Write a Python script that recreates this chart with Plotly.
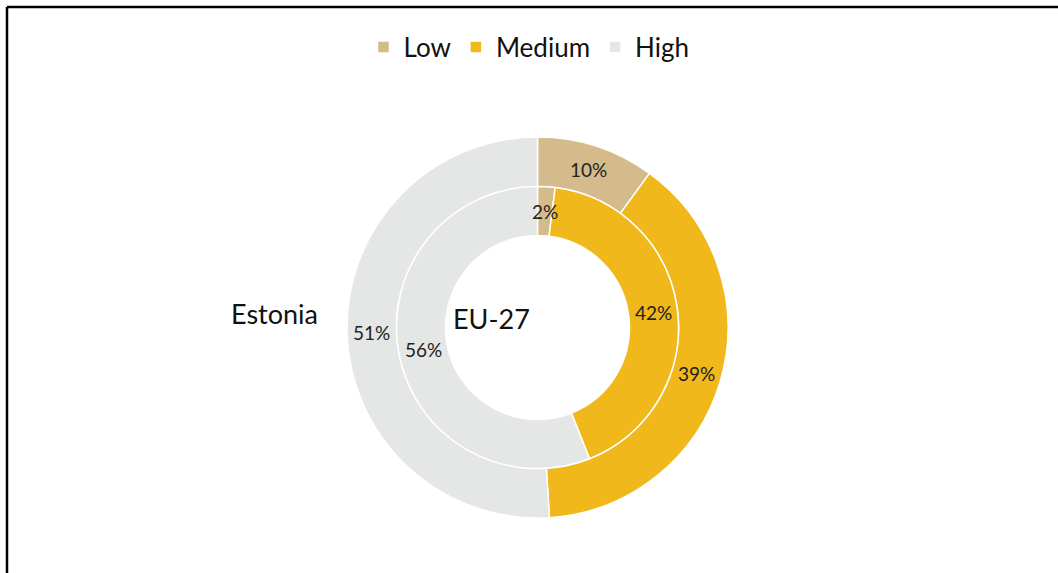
import math
import plotly.graph_objects as go

# Share of each level, outer ring = Estonia, inner ring = EU-27
levels = ["Low", "Medium", "High"]
estonia = [10, 39, 51]
eu27 = [2, 42, 56]
colors = ["#D5BB8B", "#F0B81B", "#E4E7E5"]

W, H = 1058, 573
cx, cy = 537.5, 327.5          # ring centre in pixels from top-left
r_outer, r_inner, r_hole = 190.5, 141.0, 92.0
FONT = "Lato, 'Open Sans', sans-serif"


def domain(r):
    return dict(
        x=[(cx - r) / W, (cx + r) / W],
        y=[(H - cy - r) / H, (H - cy + r) / H],
    )


def slice_labels(values, r_mid):
    """Percent labels at the middle of each slice (clockwise from 12 o'clock)."""
    total = sum(values)
    out, cum = [], 0.0
    for v in values:
        ang = 2 * math.pi * (cum + v / 2) / total
        cum += v
        px = cx + r_mid * math.sin(ang)
        py = cy - r_mid * math.cos(ang)
        out.append(dict(
            text=f"{v}%", x=px / W, y=1 - py / H, xref="paper", yref="paper",
            xanchor="center", yanchor="middle", showarrow=False,
            font=dict(family=FONT, size=19, color="#222222"),
        ))
    return out


common = dict(
    labels=levels,
    sort=False,
    direction="clockwise",
    rotation=0,
    marker=dict(colors=colors, line=dict(color="white", width=1.5)),
    textinfo="none",
    hoverinfo="label+value",
)

fig = go.Figure()
fig.add_trace(go.Pie(values=estonia, name="Estonia", domain=domain(r_outer),
                     hole=r_inner / r_outer, **common))
fig.add_trace(go.Pie(values=eu27, name="EU-27", domain=domain(r_inner),
                     hole=r_hole / r_inner, showlegend=False, **common))

annotations = [
    dict(text="Estonia", x=274 / W, y=1 - 313 / H, xref="paper", yref="paper",
         xanchor="center", yanchor="middle",
         showarrow=False, font=dict(size=27, color="#111111")),
    dict(text="EU-27", x=491 / W, y=1 - 318 / H, xref="paper", yref="paper",
         xanchor="center", yanchor="middle",
         showarrow=False, font=dict(size=27, color="#111111")),
]
annotations += slice_labels(estonia, (r_inner + r_outer) / 2)
annotations += slice_labels(eu27, (r_hole + r_inner) / 2)

fig.update_layout(
    width=W, height=H,
    margin=dict(l=0, r=0, t=0, b=0),
    paper_bgcolor="white",
    plot_bgcolor="white",
    font=dict(family=FONT, color="#111111"),
    legend=dict(
        orientation="h", x=0.5, xanchor="center", y=1 - 47 / H, yanchor="middle",
        font=dict(size=26, color="#111111"), itemwidth=30, traceorder="normal",
    ),
    annotations=annotations,
    shapes=[
        dict(type="line", xref="paper", yref="paper", x0=7 / W, x1=1, y0=1 - 7 / H, y1=1 - 7 / H,
             line=dict(color="black", width=2.5)),
        dict(type="line", xref="paper", yref="paper", x0=7 / W, x1=7 / W, y0=0, y1=1 - 7 / H,
             line=dict(color="black", width=2.5)),
    ],
)

fig.write_html("out.html")
